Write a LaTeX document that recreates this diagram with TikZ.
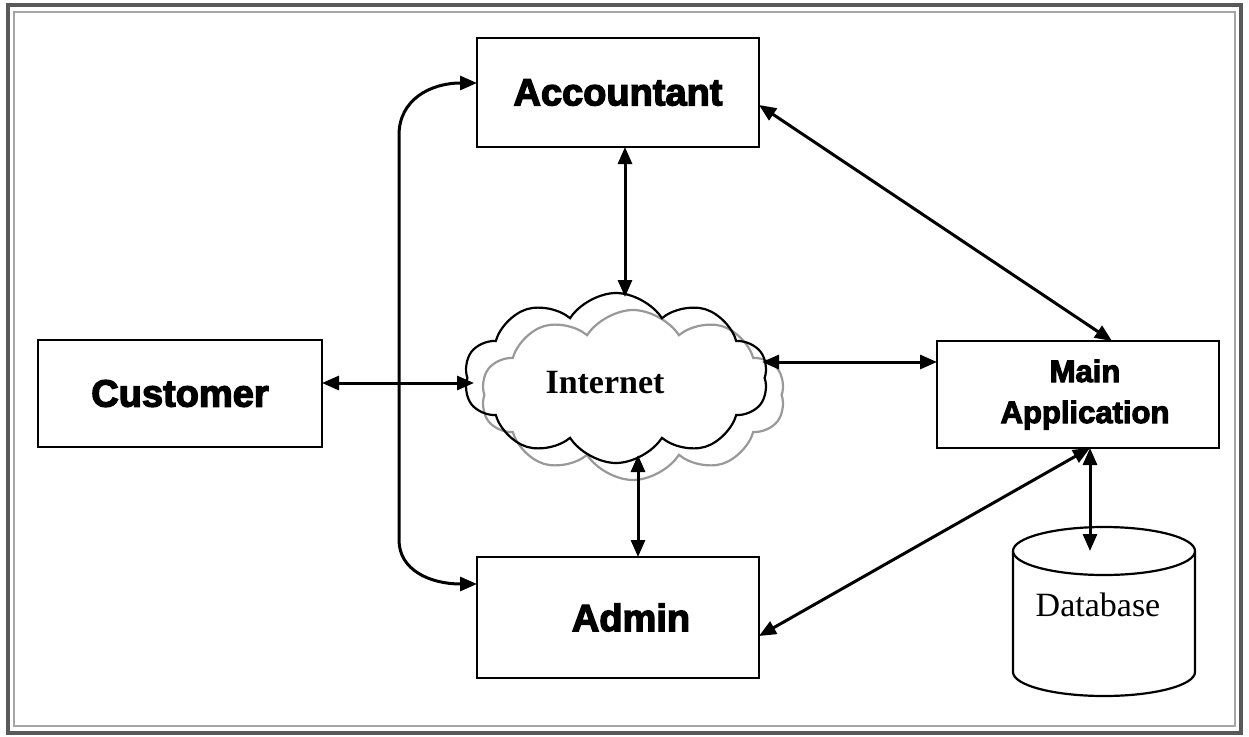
\documentclass[tikz,border=0pt]{standalone}
\usepackage{fontspec}
\setmainfont{Liberation Serif}
\newfontfamily\boxfont{Liberation Sans Bold}[FakeBold=3.5]
\usetikzlibrary{arrows.meta,shapes.symbols}
\begin{document}
\begin{tikzpicture}[x=1pt,y=-1pt,
  box/.style={draw, line width=2.8pt, font=\boxfont\fontsize{38}{40}\selectfont, inner sep=0pt},
  link/.style={line width=3pt, {Triangle[length=17pt,width=14pt]}-{Triangle[length=17pt,width=14pt]}},
  puff/.style={cloud, cloud puffs=10, cloud puff arc=115, aspect=1.8, minimum width=304pt, minimum height=170pt, line width=2.2pt},
  curl/.style={line width=2.2pt}]
\useasboundingbox (0,0) rectangle (1249,736);
\fill[white] (0,0) rectangle (1249,736);
% frame
\draw[line width=3.5pt, black!65] (8,5) rectangle (1241,733);
\draw[line width=1.2pt, black!35] (14,12) rectangle (1235,726);
% boxes
\node[box, minimum width=282pt, minimum height=109pt] (acc) at (618,92.5) {Accountant};
\node[box, minimum width=284pt, minimum height=107pt] (cus) at (180,393.5) {Customer};
\node[box, minimum width=282pt, minimum height=107pt, align=center, font=\boxfont\fontsize{31}{41}\selectfont] (main) at (1078,394.5) {\hspace*{14pt}Main\\\hspace*{14pt}Application};
\node[box, minimum width=282pt, minimum height=121pt] (adm) at (618,617.5) {\hspace*{26pt}Admin};
% cloud
\node[puff, draw=black!40] (netshadow) at (633,395) {};
\node[puff, draw=black] (net) at (616,378) {};
\node[font=\bfseries\fontsize{34}{36}\selectfont] (inet) at (605,383) {Internet};
% database
\draw[line width=2.2pt] (1013,551) -- (1013,672) arc[start angle=180,end angle=360,x radius=91pt,y radius=24pt] -- (1195,551);
\draw[line width=2.2pt] (1104,551) ellipse[x radius=91pt, y radius=24pt];
\node[font=\fontsize{34}{36}\selectfont] (db) at (1098,605) {Database};
% connector endpoints
\coordinate (accB) at (625,147);
\coordinate (netT) at (625,297);
\coordinate (cusR) at (322,383);
\coordinate (netL) at (474,383);
\coordinate (netR) at (762,362);
\coordinate (mainL) at (937,362);
\coordinate (netB) at (638,455);
\coordinate (admT) at (638,557);
\coordinate (accR) at (759,105);
\coordinate (mainT) at (1112,341);
\coordinate (admR) at (759,636);
\coordinate (mainB1) at (1090,448);
\coordinate (mainB2) at (1090,448);
\coordinate (dbT) at (1090,551);
\coordinate (accL) at (477,83);
\coordinate (admL) at (477,584);
% connectors
\draw[link] (accL) .. controls (430,83) and (399,100) .. (399,135) -- (399,540) .. controls (399,570) and (430,584) .. (admL);
\draw[link] (accB) -- (netT);
\draw[link] (cusR) -- (netL);
\draw[link] (netR) -- (mainL);
\draw[link] (netB) -- (admT);
\draw[link] (accR) -- (mainT);
\draw[link] (admR) -- (mainB1);
\draw[link] (mainB2) -- (dbT);
\end{tikzpicture}
\end{document}
